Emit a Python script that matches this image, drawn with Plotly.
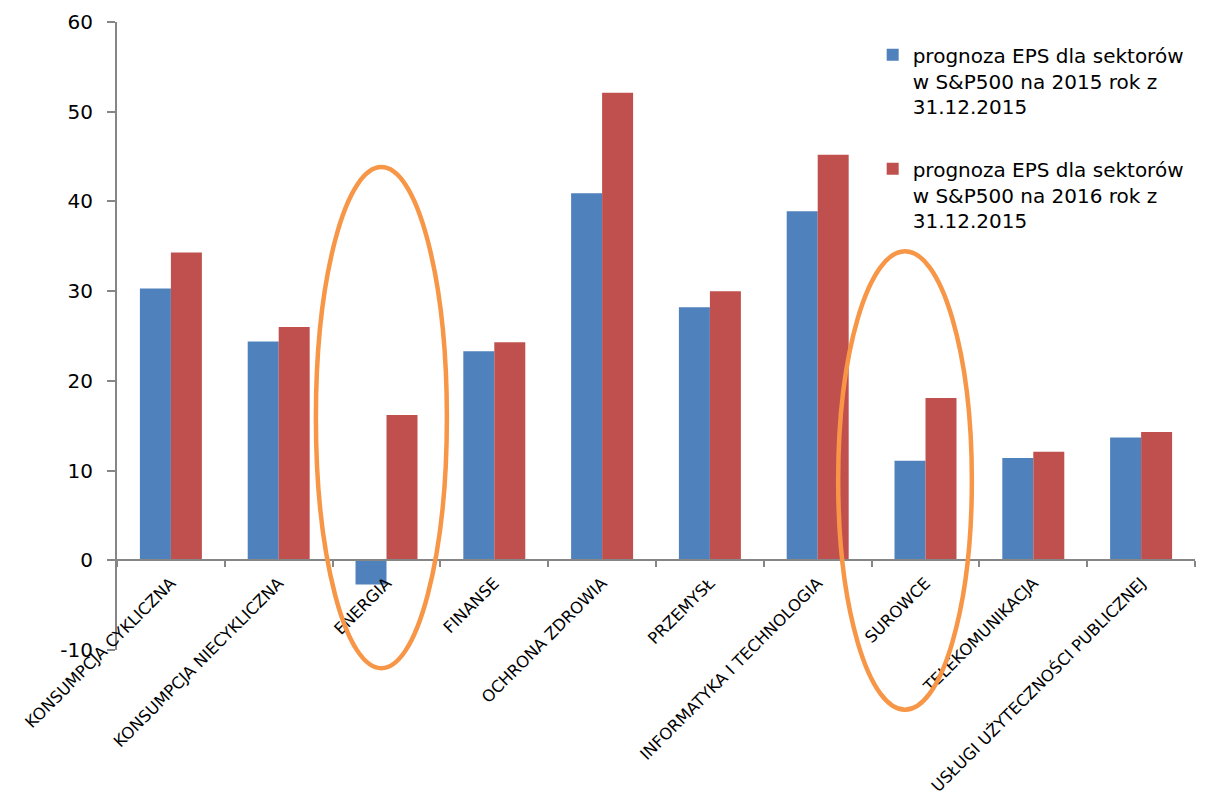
import plotly.graph_objects as go

categories = [
    "KONSUMPCJA CYKLICZNA",
    "KONSUMPCJA NIECYKLICZNA",
    "ENERGIA",
    "FINANSE",
    "OCHRONA ZDROWIA",
    "PRZEMYSŁ",
    "INFORMATYKA I TECHNOLOGIA",
    "SUROWCE",
    "TELEKOMUNIKACJA",
    "USŁUGI UŻYTECZNOŚCI PUBLICZNEJ",
]
eps_2015 = [30.3, 24.4, -2.7, 23.3, 40.9, 28.2, 38.9, 11.1, 11.4, 13.7]
eps_2016 = [34.3, 26.0, 16.2, 24.3, 52.1, 30.0, 45.2, 18.1, 12.1, 14.3]
name_2015 = "prognoza EPS dla sektorów<br>w S&P500 na 2015 rok z<br>31.12.2015"
name_2016 = "prognoza EPS dla sektorów<br>w S&P500 na 2016 rok z<br>31.12.2015"
y_tickvals = [-10, 0, 10, 20, 30, 40, 50, 60]
y_ticktext = ["-10", "0", "10", "20", "30", "40", "50", "60"]
highlighted = ["ENERGIA", "SUROWCE"]

FONT = "DejaVu Sans"
AXIS_GREY = "#868686"
Y_MIN, Y_MAX = -10, 60

fig = go.Figure()
fig.add_trace(go.Bar(x=categories, y=eps_2015, name=name_2015, legendgroup="eps2015",
                     marker=dict(color="#4F81BD", line=dict(width=0))))
fig.add_trace(go.Bar(x=categories, y=eps_2016, name=name_2016, legendgroup="eps2016",
                     marker=dict(color="#C0504D", line=dict(width=0))))

n = len(categories)
zero_pos = (0 - Y_MIN) / (Y_MAX - Y_MIN)

# orange ellipses around highlighted categories (paper coords so they are not clipped)
ellipse_specs = {
    "ENERGIA": dict(dx0=-0.655, dx1=0.56, y0=-0.029, y1=0.769),
    "SUROWCE": dict(dx0=-0.81, dx1=0.43, y0=-0.095, y1=0.635),
}
for cat in highlighted:
    idx = categories.index(cat)
    spec = ellipse_specs[cat]
    cx0 = (idx + 0.5 + spec["dx0"]) / n
    cx1 = (idx + 0.5 + spec["dx1"]) / n
    fig.add_shape(type="circle", xref="paper", yref="paper",
                  x0=cx0, x1=cx1, y0=spec["y0"], y1=spec["y1"],
                  line=dict(color="#F79646", width=4.5), layer="above")

fig.update_layout(
    width=1210, height=803,
    margin=dict(l=117, r=15, t=22, b=153, autoexpand=False),
    plot_bgcolor="white", paper_bgcolor="white",
    barmode="group", bargap=0.425, bargroupgap=0,
    font=dict(family=FONT, color="black"),
    showlegend=True,
    legend=dict(x=0.701, y=0.979, xanchor="left", yanchor="top",
                font=dict(family=FONT, size=20, color="black"),
                bgcolor="rgba(0,0,0,0)", valign="top", tracegroupgap=33,
                itemclick=False, itemdoubleclick=False),
    xaxis=dict(
        anchor="free", position=zero_pos,
        showline=True, linecolor=AXIS_GREY, linewidth=2,
        ticks="outside", tickson="boundaries", ticklen=6, tickcolor=AXIS_GREY, tickwidth=2,
        tickangle=-45, tickfont=dict(family=FONT, size=16.3, color="black"),
        ticklabelstandoff=6,
        showgrid=False, zeroline=False, range=[-0.5, n - 0.5],
    ),
    yaxis=dict(
        range=[Y_MIN, Y_MAX], tickvals=y_tickvals, ticktext=y_ticktext,
        showline=True, linecolor=AXIS_GREY, linewidth=2,
        ticks="outside", ticklen=8, tickcolor=AXIS_GREY, tickwidth=2,
        tickfont=dict(family=FONT, size=20, color="black"),
        ticklabelstandoff=10,
        showgrid=False, zeroline=False,
    ),
)

fig.write_html("out.html")
